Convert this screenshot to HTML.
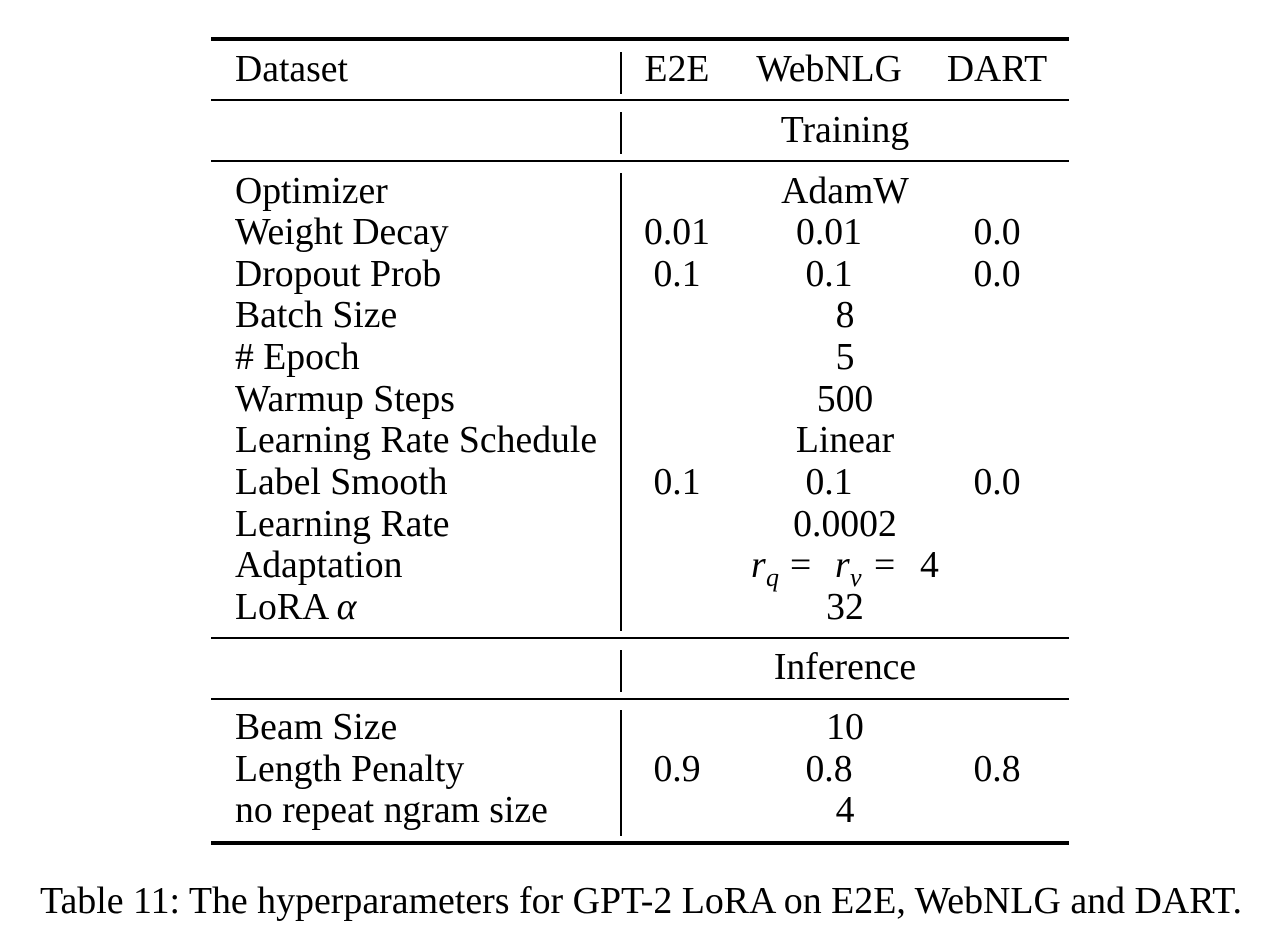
<!DOCTYPE html>
<html><head><meta charset="utf-8"><style>
html,body{margin:0;padding:0;background:#fff;}
svg{display:block;}
text{font-family:"Liberation Serif",serif;font-size:37.7px;fill:#000;}
.c{text-anchor:middle;}
.i{font-family:"Liberation Serif",serif;font-style:italic;}
</style></head><body>
<svg width="1286" height="948" viewBox="0 0 1286 948">
<rect x="211" y="37" width="858" height="4" fill="#000"/>
<rect x="211" y="99" width="858" height="2" fill="#000"/>
<rect x="211" y="160" width="858" height="2" fill="#000"/>
<rect x="211" y="637" width="858" height="2" fill="#000"/>
<rect x="211" y="698" width="858" height="2" fill="#000"/>
<rect x="211" y="841" width="858" height="4" fill="#000"/>
<g fill="#000">
<rect x="620" y="52" width="2" height="42"/>
<rect x="620" y="112" width="2" height="42"/>
<rect x="620" y="173" width="2" height="458"/>
<rect x="620" y="650" width="2" height="42"/>
<rect x="620" y="710" width="2" height="126"/>
</g>
<text x="235" y="81">Dataset</text>
<text class="c" x="677" y="81">E2E</text>
<text class="c" x="829" y="81">WebNLG</text>
<text class="c" x="997" y="81">DART</text>
<text class="c" x="845" y="142">Training</text>

<text x="235" y="203">Optimizer</text><text class="c" x="845" y="203">AdamW</text>
<text x="235" y="244">Weight Decay</text><text class="c" x="677" y="244">0.01</text><text class="c" x="829" y="244">0.01</text><text class="c" x="997" y="244">0.0</text>
<text x="235" y="286">Dropout Prob</text><text class="c" x="677" y="286">0.1</text><text class="c" x="829" y="286">0.1</text><text class="c" x="997" y="286">0.0</text>
<text x="235" y="327">Batch Size</text><text class="c" x="845" y="327">8</text>
<text x="235" y="369"># Epoch</text><text class="c" x="845" y="369">5</text>
<text x="235" y="411">Warmup Steps</text><text class="c" x="845" y="411">500</text>
<text x="235" y="452">Learning Rate Schedule</text><text class="c" x="845" y="452">Linear</text>
<text x="235" y="494">Label Smooth</text><text class="c" x="677" y="494">0.1</text><text class="c" x="829" y="494">0.1</text><text class="c" x="997" y="494">0.0</text>
<text x="235" y="536">Learning Rate</text><text class="c" x="845" y="536">0.0002</text>
<text x="235" y="577">Adaptation</text>
<text class="i" x="751" y="577">r</text><text class="i" x="766" y="586" style="font-size:26px">q</text>
<text x="790" y="577">=</text>
<text class="i" x="835" y="577">r</text><text class="i" x="850" y="586" style="font-size:26px">v</text>
<text x="874" y="577">=</text><text x="920" y="577">4</text>
<text x="235" y="619">LoRA <tspan class="i">α</tspan></text><text class="c" x="845" y="619">32</text>

<text class="c" x="845" y="679">Inference</text>
<text x="235" y="739">Beam Size</text><text class="c" x="845" y="739">10</text>
<text x="235" y="781">Length Penalty</text><text class="c" x="677" y="781">0.9</text><text class="c" x="829" y="781">0.8</text><text class="c" x="997" y="781">0.8</text>
<text x="235" y="822">no repeat ngram size</text><text class="c" x="845" y="822">4</text>

<text x="40" y="913" textLength="1202" lengthAdjust="spacingAndGlyphs">Table 11: The hyperparameters for GPT-2 LoRA on E2E, WebNLG and DART.</text>
</svg>
</body></html>
